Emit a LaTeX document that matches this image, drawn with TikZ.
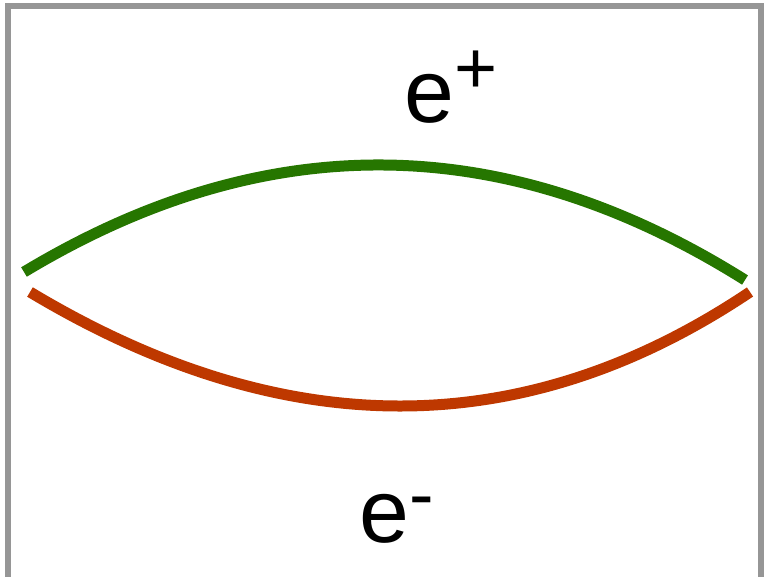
\documentclass[tikz,border=0pt]{standalone}
\usepackage{fontspec}
\setmainfont{Liberation Sans}
\definecolor{ArcGreen}{RGB}{38,118,0}
\definecolor{ArcRed}{RGB}{190,56,0}
\definecolor{FrameGray}{RGB}{150,150,150}
\newcommand{\chargemark}[2]{\raisebox{#1}{\fontsize{42}{50}\selectfont #2}}

\begin{document}
\begin{tikzpicture}[x=0.02cm, y=-0.02cm,
          lobe/.style={line width=0.22cm},
          lbl/.style={font=\fontsize{51}{60}\selectfont, inner sep=0pt,
                      anchor=base west}
        ]
        \useasboundingbox (0,0) rectangle (764,576);
        \clip (0,0) rectangle (764,576);
        % frame (open at the bottom edge)
        \draw[FrameGray, line width=0.12cm] (8,5.5) rectangle (760.5,620);

        % end points of the two lobes
        \coordinate (gl) at (24,272);
        \coordinate (gr) at (745,280);
        \coordinate (rl) at (30,292);
        \coordinate (rr) at (750,292);

        % positron (top) and electron (bottom) paths
        \draw[lobe, ArcGreen] (gl) .. controls (265,126.7) and (505.3,129.3) .. (gr);
        \draw[lobe, ArcRed] (rl) .. controls (283.3,444) and (523.3,444) .. (rr);

        \node[lbl] (pos) at (404,122) {e\chargemark{16.5pt}{+}};
        \node[lbl] (ele) at (359,542) {e\chargemark{13pt}{-}};
      \end{tikzpicture}
\end{document}
